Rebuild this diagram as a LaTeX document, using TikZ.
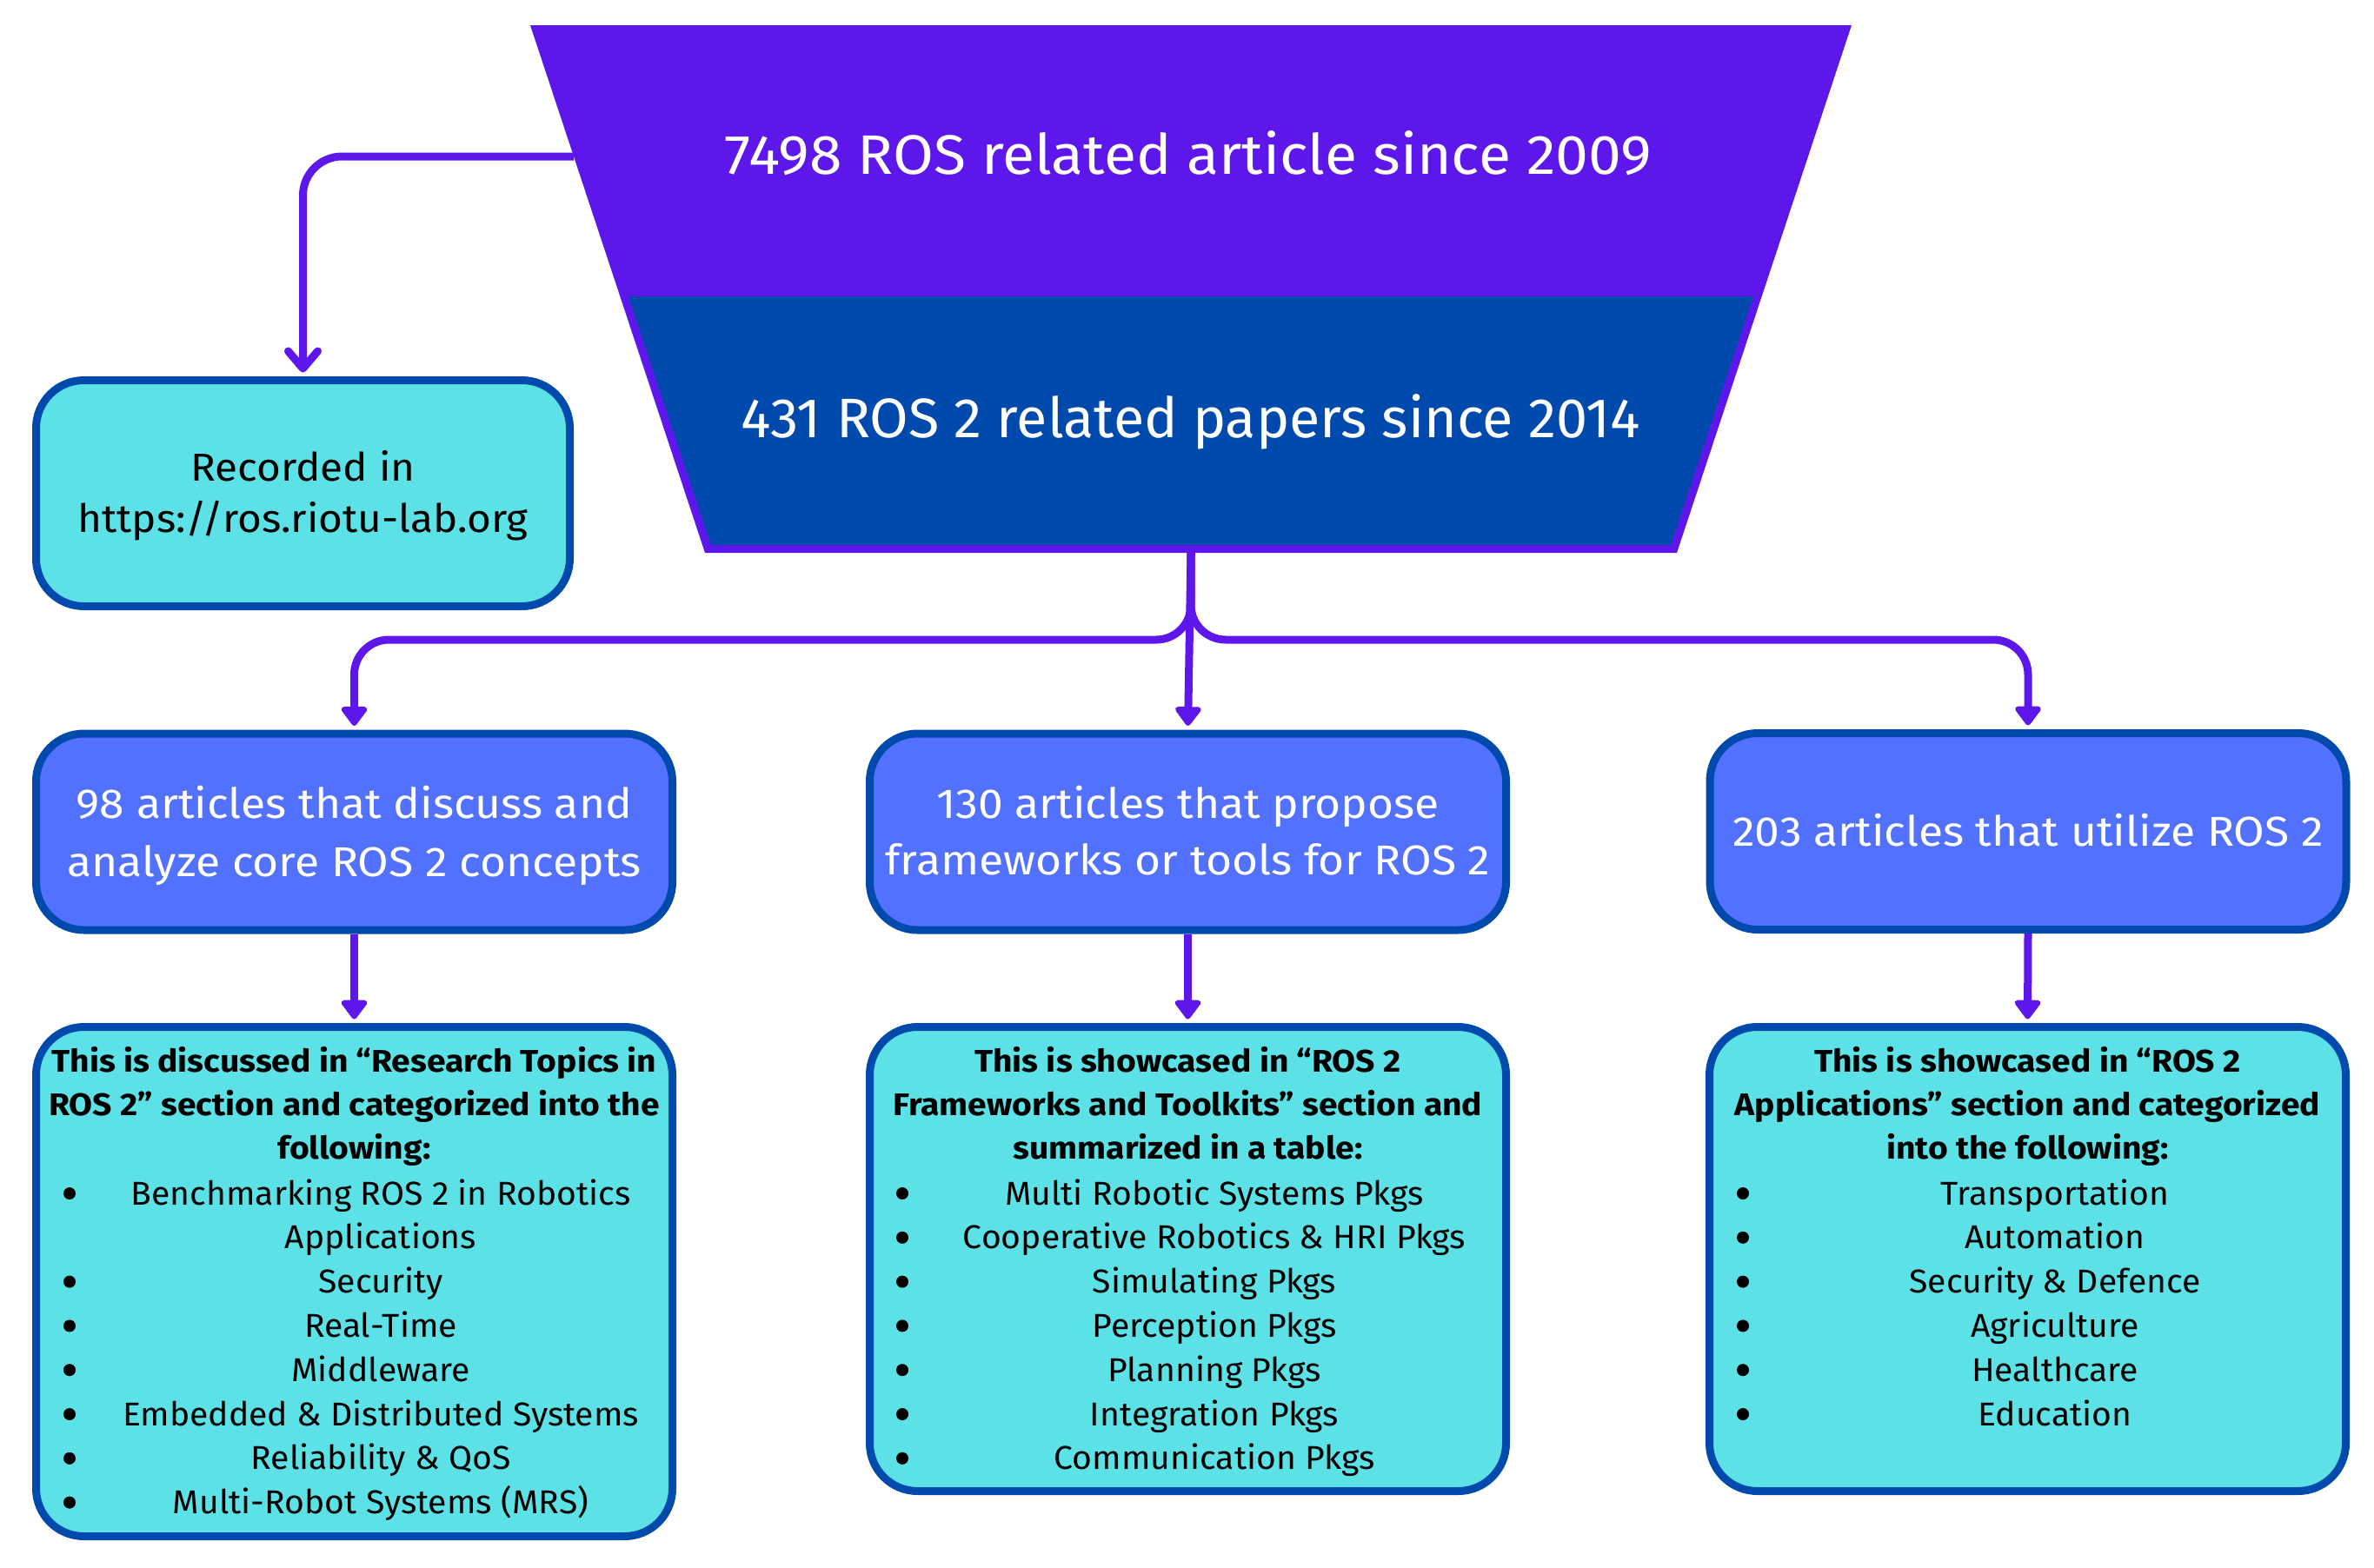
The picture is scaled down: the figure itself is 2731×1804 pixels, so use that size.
\documentclass[tikz,border=0pt]{standalone}
\usepackage{fontspec}
\setmainfont{Fira Sans}
\newfontfamily\fbig[FakeStretch=1.06]{Fira Sans}
\newfontfamily\fbigb[FakeStretch=1.01]{Fira Sans}
\newfontfamily\fmid[FakeStretch=1.075]{Fira Sans}
\newfontfamily\frec[FakeStretch=1.06]{Fira Sans}
\newfontfamily\fhd[FakeStretch=1.085]{Fira Sans Bold}
\newfontfamily\fit[FakeStretch=1.03]{Fira Sans}
\usetikzlibrary{arrows.meta}
\definecolor{fpurple}{HTML}{5E17EB}
\definecolor{fblue}{HTML}{004AAD}
\definecolor{bbox}{HTML}{5271FF}
\definecolor{cbox}{HTML}{5CE1E6}
\begin{document}
\begin{tikzpicture}[x=1pt,y=-1pt,
  boxbase/.style={draw=fblue, line width=9pt, rounded corners=55pt, inner sep=0pt, rectangle},
  bluebox/.style={boxbase, fill=bbox, minimum width=732pt, minimum height=226pt},
  cyanbox/.style={boxbase, fill=cbox, minimum width=732pt},
  conn/.style={draw=fpurple, line width=9pt, -{Triangle[length=24pt,width=34pt,round]}, shorten >=4.5pt},
  openconn/.style={draw=fpurple, line width=9pt, -{Straight Barb[length=20pt,width=34pt,round]}, shorten >=4.5pt, rounded corners=45pt},
  bigtxt/.style={text=white, font=\fbig\fontsize{64}{70}\selectfont, anchor=base, inner sep=0pt},
  midtxt/.style={text=white, font=\fmid\fontsize{48}{54}\selectfont, anchor=base, inner sep=0pt},
  rectxt/.style={text=black, font=\frec\fontsize{45}{50}\selectfont, anchor=base, inner sep=0pt},
  hdtxt/.style={text=black, font=\fhd\fontsize{36}{40}\selectfont, anchor=base, inner sep=0pt},
  ittxt/.style={text=black, font=\fit\fontsize{38}{42}\selectfont, anchor=base, inner sep=0pt},
]
\useasboundingbox (0,0) rectangle (2731,1804);
% funnel
\fill[fpurple] (610,29) -- (2130,29) -- (1929,636) -- (811,636) -- cycle;
\fill[fblue] (723,341) -- (2017,341) -- (1922,627) -- (818,627) -- cycle;
\node[bigtxt] (f1) at (1367,200) {7498 ROS related article since 2009};
\node[bigtxt, font=\fbigb\fontsize{64}{70}\selectfont] (f2) at (1370,503) {431 ROS 2 related papers since 2014};
\coordinate (fl) at (660,180);
\coordinate (trunk) at (1370,636);
\coordinate (split) at (1370,736);
% boxes
\node[boxbase, fill=cbox, minimum width=614pt, minimum height=260pt] (rec) at (348.5,567.5) {};
\node[rectxt] (rec1) at (348.5,553) {Recorded in};
\node[rectxt] (rec2) at (348.5,612) {https://ros.riotu-lab.org};
\node[bluebox] (b1) at (407.5,957) {};
\node[bluebox] (b2) at (1366.5,957) {};
\node[bluebox] (b3) at (2333,956.5) {};
\node[midtxt] (b1a) at (407.5,941) {98 articles that discuss and};
\node[midtxt] (b1b) at (407.5,1008) {analyze core ROS 2 concepts};
\node[midtxt] (b2a) at (1366.5,941) {130 articles that propose};
\node[midtxt] (b2b) at (1366.5,1006) {frameworks or tools for ROS 2};
\node[midtxt] (b3a) at (2333,973) {203 articles that utilize ROS 2};
\node[cyanbox, minimum height=586pt] (c1) at (407.5,1474.5) {};
\node[cyanbox, minimum height=534pt] (c2) at (1366.5,1448.5) {};
\node[cyanbox, minimum height=534pt] (c3) at (2332.5,1448.5) {};
% headers
\foreach \t [count=\i from 0] in {This is discussed in “Research Topics in, ROS 2” section and categorized into the, following:}
  \node[hdtxt] (h1\i) at (407.5,1233+50*\i) {\t};
\foreach \t [count=\i from 0] in {This is showcased in “ROS 2, Frameworks and Toolkits” section and, summarized in a table:}
  \node[hdtxt] (h2\i) at (1366.5,1233+50*\i) {\t};
\foreach \t [count=\i from 0] in {This is showcased in “ROS 2, Applications” section and categorized, into the following:}
  \node[hdtxt] (h3\i) at (2332.5,1233+50*\i) {\t};
% items
\foreach \t [count=\i from 0] in {Benchmarking ROS 2 in Robotics, Applications, Security, Real-Time, Middleware, Embedded \& Distributed Systems, Reliability \& QoS, Multi-Robot Systems (MRS)}
  \node[ittxt] (i1\i) at (438,1386+50.8*\i) {\t};
\foreach \i in {0,2,3,4,5,6,7} \fill (80,1373+50.8*\i) circle (7);
\foreach \t [count=\i from 0] in {Multi Robotic Systems Pkgs, Cooperative Robotics \& HRI Pkgs, Simulating Pkgs, Perception Pkgs, Planning Pkgs, Integration Pkgs, Communication Pkgs}
  {\node[ittxt] (i2\i) at (1397,1386+50.8*\i) {\t};
   \fill (1038,1373+50.8*\i) circle (7);}
\foreach \t [count=\i from 0] in {Transportation, Automation, Security \& Defence, Agriculture, Healthcare, Education}
  {\node[ittxt] (i3\i) at (2364,1386+50.8*\i) {\t};
   \fill (2005,1373+50.8*\i) circle (7);}
% connectors
\draw[openconn] (fl) -| (rec.north);
\draw[conn, rounded corners=40pt] (trunk) -- (split) -| (b1.north);
\draw[conn, rounded corners=40pt] (trunk) -- (split) -| (b3.north);
\draw[conn] (trunk) -- (b2.north);
\draw[conn] (b1.south) -- (c1.north);
\draw[conn] (b2.south) -- (c2.north);
\draw[conn] (b3.south) -- (c3.north);
\end{tikzpicture}
\end{document}
